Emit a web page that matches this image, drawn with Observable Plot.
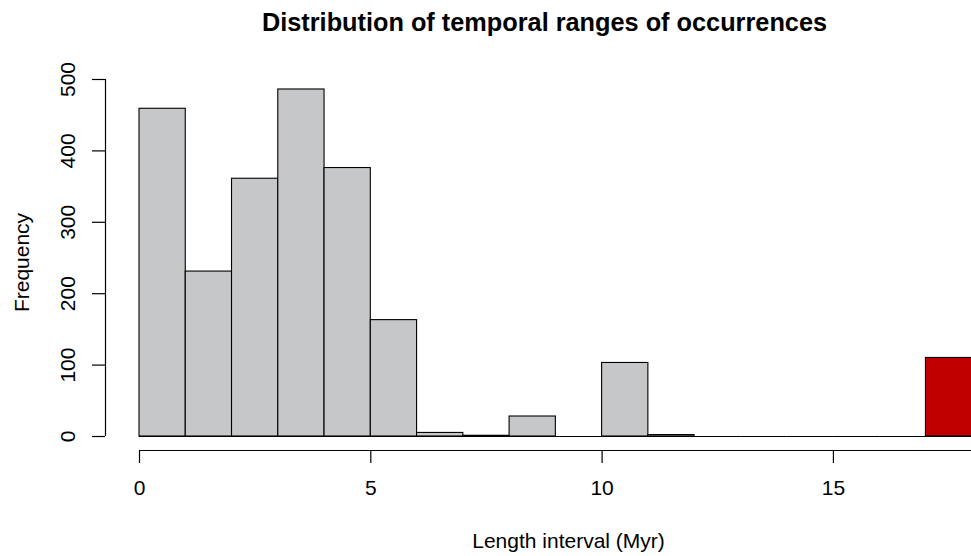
<!DOCTYPE html>
<html>
<head>
<meta charset="utf-8">
<script src="https://cdn.jsdelivr.net/npm/d3@7"></script>
<script src="https://cdn.jsdelivr.net/npm/@observablehq/plot@0.6"></script>
<style>
  html, body { margin: 0; padding: 0; background: #fff; }
  #chart svg { display: block; overflow: hidden; }
</style>
</head>
<body>
<div id="chart"></div>
<script>
// ---- data ----
const title = "Distribution of temporal ranges of occurrences";
const xLabel = "Length interval (Myr)";
const yLabel = "Frequency";
const binStarts = [0, 1, 2, 3, 4, 5, 6, 7, 8, 9, 10, 11, 12, 13, 14, 15, 16, 17];
const binWidth = 1;
const counts = [459, 231, 361, 486, 376, 163, 5, 1, 28, 0, 103, 2, 0, 0, 0, 0, 0, 110];
const highlightBin = 17;
const xTicks = [0, 5, 10, 15, 20];
const yTicks = [0, 100, 200, 300, 400, 500];

// ---- build ----
const bins = binStarts.map((x0, i) => ({x0, x1: x0 + binWidth, count: counts[i], hi: x0 === highlightBin}));
const xDomain = [-0.735, 17.985];
const yDomain = [-19.6, 526.6];
const xMin = xDomain[0], yMin = yDomain[0];
const visibleXTicks = xTicks.filter(d => d >= xDomain[0] && d <= xDomain[1]);
const font = "'Liberation Sans', Arial, Helvetica, sans-serif";

const chart = Plot.plot({
  width: 971,
  height: 556,
  marginLeft: 105,
  marginRight: 0,
  marginTop: 60,
  marginBottom: 106,
  style: {fontFamily: font, background: "#fff", color: "#000", overflow: "hidden"},
  x: {domain: xDomain, axis: null},
  y: {domain: yDomain, axis: null},
  color: {type: "identity"},
  marks: [
    // histogram bars
    Plot.rect(bins, {
      x1: "x0", x2: "x1", y1: 0, y2: "count",
      fill: d => d.hi ? "#c00000" : "#c6c7c9",
      stroke: "#000", strokeWidth: 1.1
    }),
    // zero-height bins drawn as flat lines, as R does
    Plot.ruleY(bins, {y: 0, x1: "x0", x2: "x1", stroke: "#000", strokeWidth: 1.1}),
    // x axis line and ticks
    Plot.ruleY([yMin], {x1: xTicks[0], x2: xTicks[xTicks.length - 1], stroke: "#000", strokeWidth: 1.2}),
    Plot.ruleX(visibleXTicks, {x: d => d, y1: yMin, y2: yMin, insetBottom: -13, stroke: "#000", strokeWidth: 1.2}),
    Plot.text(visibleXTicks, {x: d => d, y: yMin, text: d => String(d), dy: 38, lineAnchor: "middle", fontSize: 21, fill: "#000"}),
    // y axis line and ticks
    Plot.ruleX([xMin], {y1: yTicks[0], y2: yTicks[yTicks.length - 1], stroke: "#000", strokeWidth: 1.2}),
    Plot.ruleY(yTicks, {y: d => d, x1: xMin, x2: xMin, insetLeft: -13, stroke: "#000", strokeWidth: 1.2}),
    Plot.text(yTicks, {x: xMin, y: d => d, text: d => String(d), rotate: -90, dx: -37.5, lineAnchor: "middle", textAnchor: "middle", fontSize: 21, fill: "#000"}),
    // titles
    Plot.text([title], {frameAnchor: "top", dx: 6, dy: -30, lineAnchor: "bottom", textAnchor: "middle", fontSize: 25.3, fontWeight: "bold", fill: "#000"}),
    Plot.text([xLabel], {frameAnchor: "bottom", dx: 30, dy: 97, lineAnchor: "bottom", textAnchor: "middle", fontSize: 21, fill: "#000"}),
    Plot.text([yLabel], {frameAnchor: "left", rotate: -90, dx: -83, dy: 7, lineAnchor: "middle", textAnchor: "middle", fontSize: 21, fill: "#000"})
  ]
});
document.getElementById("chart").appendChild(chart);
</script>
</body>
</html>
